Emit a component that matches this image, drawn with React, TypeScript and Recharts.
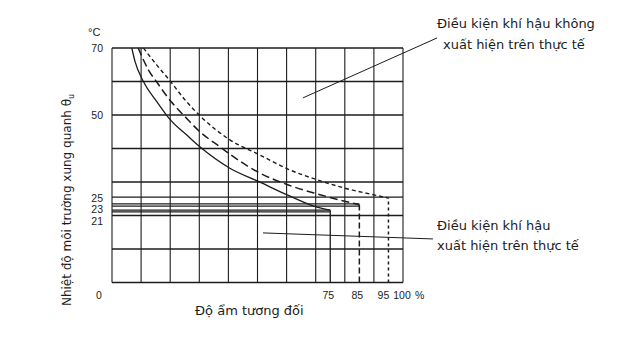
import React from "react";
import { LineChart, Line, XAxis, YAxis, CartesianGrid, ReferenceLine } from "recharts";

// relative humidity (%) / ambient temperature (°C)
const solidRH = [6.8, 7.9, 10.8, 15.4, 20.3, 25.7, 30.2, 40.5, 50.5, 60.6, 70.7, 75];
const solidT = [70, 66, 60, 54, 48.3, 44, 40.5, 34.1, 30.1, 26, 22.4, 21.6];

const dashedRH = [9, 12.5, 15.4, 20.3, 25.1, 30.2, 37.1, 40.5, 50.5, 60.6, 70.7, 80.7, 85];
const dashedT = [70, 63.5, 59.8, 54, 49.5, 45, 40.5, 38.3, 32.8, 29.1, 26.4, 24.1, 23.2];

const dottedRH = [10.8, 15.4, 20.3, 25, 30.2, 40.5, 50.5, 60.6, 70.7, 80.7, 90.4, 95];
const dottedT = [70, 64.9, 59.8, 54.6, 49.8, 42.6, 38.2, 33.8, 30.6, 28, 26.1, 25.2];

// plateau lines (double rules in the scan) and the full-width 25 °C rule
const solidPlateau = [21.1, 21.6];
const dashedPlateau = [22.8, 23.5];
const topPlateau = 25.5;

const xTicks = [0, 75, 85, 95, 100];
const yTicks = [21, 23, 25, 50, 70];
const gridRows = [0, 10, 20, 30, 40, 50, 60, 70];
const gridCols = [0, 10, 20, 30, 40, 50, 60, 70, 80, 90, 100];

// leader lines for the two notes, in chart units
const leaderTop = [{ x: 65.6, y: 55.1 }, { x: 111.7, y: 73 }];
const leaderBottom = [{ x: 51.9, y: 14.8 }, { x: 110.3, y: 13 }];

const toPts = (xs: number[], ys: number[]) => xs.map((x, i) => ({ x, t: ys[i] }));

const INK = "#1c1c1c";
const tickFont = { fontFamily: '"Liberation Sans", Arial, sans-serif', fontSize: 10.5, fill: INK };

// 21 and 23 are pushed down a bit in the original so they don't collide
const yNudge: Record<number, number> = { 21: 9, 23: 4, 25: -1 };
const xNudge: Record<number, number> = { 0: -13, 75: -2, 85: -2, 95: -5, 100: -1 };

function YTick(props: any) {
  const { x, y, payload } = props;
  const v = payload.value as number;
  return (
    <text x={x} y={y + (yNudge[v] ?? 0)} textAnchor="end" dominantBaseline="central" {...tickFont}>
      {v}
    </text>
  );
}

function XTick(props: any) {
  const { x, y, payload } = props;
  const v = payload.value as number;
  const cx = x + (xNudge[v] ?? 0);
  return (
    <g>
      <text x={cx} y={y + 12} textAnchor="middle" dominantBaseline="central" {...tickFont}>
        {v}
      </text>
      {v === 100 && (
        <text x={cx + 13} y={y + 12} dominantBaseline="central" {...tickFont}>
          %
        </text>
      )}
    </g>
  );
}

const noteStyle: React.CSSProperties = {
  position: "absolute",
  fontSize: 13,
  lineHeight: "21px",
  whiteSpace: "nowrap",
};

export default function App() {
  return (
    <div
      style={{
        position: "absolute",
        left: 0,
        top: 0,
        width: 624,
        height: 352,
        background: "#fff",
        color: INK,
        fontFamily: '"DejaVu Sans", sans-serif',
      }}
    >
      <LineChart width={624} height={352} margin={{ top: 48, right: 221, bottom: 39.5, left: 52 }}>
        <CartesianGrid
          horizontal
          vertical={false}
          horizontalValues={gridRows}
          stroke={INK}
          strokeWidth={1.7}
        />
        <CartesianGrid
          horizontal={false}
          vertical
          verticalValues={gridCols}
          stroke={INK}
          strokeWidth={1.1}
        />
        <XAxis
          type="number"
          dataKey="x"
          domain={[0, 100]}
          ticks={xTicks}
          interval={0}
          height={30}
          axisLine={false}
          tickLine={false}
          tickSize={0}
          tickMargin={0}
          tick={<XTick />}
        />
        <YAxis
          type="number"
          domain={[0, 70]}
          ticks={yTicks}
          interval={0}
          width={60}
          axisLine={false}
          tickLine={false}
          tickSize={0}
          tickMargin={9}
          tick={<YTick />}
        />

        <ReferenceLine y={topPlateau} stroke={INK} strokeWidth={1.2} />
        {solidPlateau.map((t) => (
          <ReferenceLine key={"s" + t} segment={[{ x: 0, y: t }, { x: 75, y: t }]} stroke={INK} strokeWidth={1.2} />
        ))}
        {dashedPlateau.map((t) => (
          <ReferenceLine key={"d" + t} segment={[{ x: 0, y: t }, { x: 85, y: t }]} stroke={INK} strokeWidth={1.2} />
        ))}

        <ReferenceLine segment={[{ x: 75, y: 0 }, { x: 75, y: solidT[solidT.length - 1] }]} stroke={INK} strokeWidth={1.3} />
        <ReferenceLine
          segment={[{ x: 85, y: 0 }, { x: 85, y: dashedT[dashedT.length - 1] }]}
          stroke={INK}
          strokeWidth={1.5}
          strokeDasharray="6 3"
        />
        <ReferenceLine
          segment={[{ x: 95, y: 0 }, { x: 95, y: dottedT[dottedT.length - 1] }]}
          stroke={INK}
          strokeWidth={1.5}
          strokeDasharray="3 3"
        />

        <ReferenceLine segment={leaderTop} stroke={INK} strokeWidth={1} ifOverflow="visible" />
        <ReferenceLine segment={leaderBottom} stroke={INK} strokeWidth={1} ifOverflow="visible" />

        <Line
          data={toPts(solidRH, solidT)}
          dataKey="t"
          type="monotone"
          stroke={INK}
          strokeWidth={1.3}
          dot={false}
          isAnimationActive={false}
        />
        <Line
          data={toPts(dashedRH, dashedT)}
          dataKey="t"
          type="monotone"
          stroke={INK}
          strokeWidth={1.5}
          strokeDasharray="8 4"
          dot={false}
          isAnimationActive={false}
        />
        <Line
          data={toPts(dottedRH, dottedT)}
          dataKey="t"
          type="monotone"
          stroke={INK}
          strokeWidth={1.4}
          strokeDasharray="4 3"
          dot={false}
          isAnimationActive={false}
        />
      </LineChart>

      <div style={{ position: "absolute", left: 88, top: 26, fontSize: 11, fontFamily: '"Liberation Sans", Arial, sans-serif' }}>
        °C
      </div>
      <div
        style={{
          position: "absolute",
          left: 68,
          top: 200,
          fontSize: 12,
          whiteSpace: "nowrap",
          transform: "translate(-50%, -50%) rotate(-90deg)",
        }}
      >
        Nhiệt độ môi trường xung quanh θ<sub style={{ fontSize: 8 }}>u</sub>
      </div>
      <div style={{ position: "absolute", left: 195, top: 303, fontSize: 13, whiteSpace: "nowrap" }}>
        Độ ẩm tương đối
      </div>

      <div style={{ ...noteStyle, left: 437, top: 13 }}>
        Điều kiện khí hậu không
        <br />
        <span style={{ marginLeft: 6 }}>xuất hiện trên thực tế</span>
      </div>
      <div style={{ ...noteStyle, left: 437, top: 216, lineHeight: "20px" }}>
        Điều kiện khí hậu
        <br />
        xuất hiện trên thực tế
      </div>
    </div>
  );
}
